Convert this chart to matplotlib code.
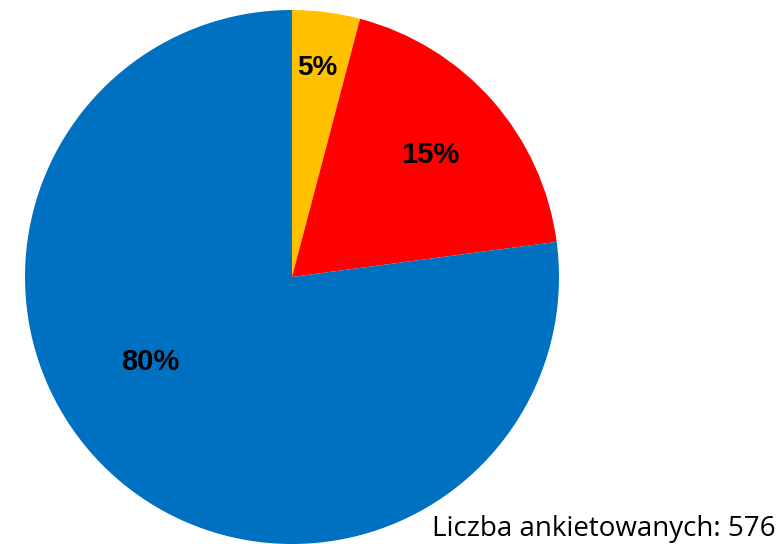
import numpy as np
import matplotlib.pyplot as plt

# slice shares as drawn (the printed labels are rounded differently)
shares = [4.1, 18.8, 77.1]
labels = ["5%", "15%", "80%"]
colors = ["#FFC000", "#FF0000", "#0070C0"]
note = "Liczba ankietowanych: 576"

# label placement: fraction of radius and angle shift (deg) per wedge
_LABEL_R = [0.79, 0.69, 0.62]
_LABEL_SHIFT = [0.5, 0.0, -18.0]

W, H = 780, 544
fig = plt.figure(figsize=(W / 100, H / 100), dpi=100)
ax = fig.add_axes([0, 0, 1, 1])

cx, cy, R = 292, H - 277, 267
wedges, _ = ax.pie(
    shares,
    colors=colors,
    startangle=90,
    counterclock=False,
    center=(cx, cy),
    radius=R,
    wedgeprops=dict(linewidth=0),
    frame=True,
)
ax.set_xlim(0, W)
ax.set_ylim(0, H)
ax.set_aspect("equal")
ax.axis("off")

label_font = ["Liberation Sans Narrow", "Liberation Sans", "DejaVu Sans"]
for w, lab, rf, sh in zip(wedges, labels, _LABEL_R, _LABEL_SHIFT):
    mid = np.deg2rad((w.theta1 + w.theta2) / 2 + sh)
    x = cx + rf * R * np.cos(mid)
    y = cy + rf * R * np.sin(mid)
    size = 20 if lab == "5%" else 21
    ax.text(x, y, lab, ha="center", va="center", fontsize=size,
            fontweight="bold", color="black", family=label_font)

fig.text(0.995, 0.015, note, ha="right", va="baseline", fontsize=20,
         family=["Open Sans", "DejaVu Sans"], color="black")

fig.savefig("out.png", dpi=100)
